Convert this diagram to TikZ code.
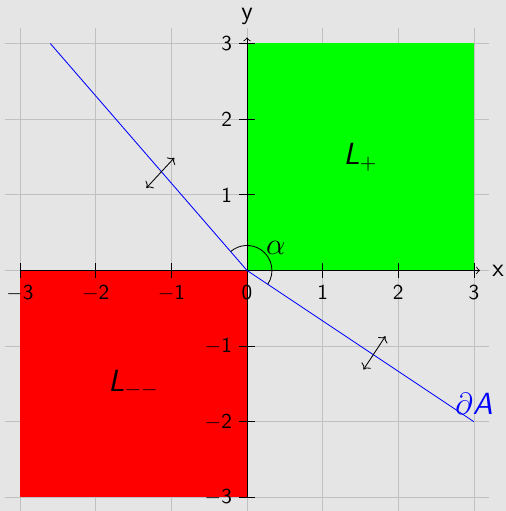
\documentclass[tikz,border=0pt]{standalone}
\usepackage{amsmath}
\usepackage{amssymb}
\usepackage{tikz}
\usetikzlibrary{
    arrows.meta,
    calc
}

\definecolor{bggray}{RGB}{229,229,229}
\definecolor{gridgray}{RGB}{192,192,192}

\newcommand{\sfL}{\textsf{\textit{L}}}

\begin{document}
\begin{tikzpicture}[x=1.25cm,y=1.25cm,font=\sffamily,
    axislabel/.style={font=\sffamily\large},
    regionlabel/.style={font=\sffamily\Large},
    flip/.style={black,<->}]

% Background
\fill[bggray] (-3.265,-3.18) rectangle (3.42,3.575);
\useasboundingbox (-3.265,-3.18) rectangle (3.42,3.575);

% Grid
\foreach \i in {-3,...,3}{
  \draw[gridgray] (\i,-3.2) -- (\i,3.2);
  \draw[gridgray] (-3.2,\i) -- (3.2,\i);
}

% Regions
\fill[green] (0,0) rectangle (3,3);
\fill[red] (-3,-3) rectangle (0,0);

% Axes
\draw[-to] (-3,0) -- (3.08,0);
\draw[-to] (0,-3) -- (0,3.08);
\node[axislabel] (xlab) at (3.32,0) {x};
\node[axislabel] (ylab) at (0,3.36) {y};

% Ticks
\foreach \x/\t in {-3/$-$3,-2/$-$2,-1/$-$1,0/0,1/1,2/2,3/3}{
  \draw (\x,-0.1) -- (\x,0.1);
  \node[below] (xt\x) at (\x,-0.1) {\t};
}
\foreach \y/\t in {-3/$-$3,-2/$-$2,-1/$-$1,1/1,2/2,3/3}{
  \draw (-0.1,\y) -- (0.1,\y);
  \node[left] (yt\y) at (-0.1,\y) {\t};
}

% Boundary
\coordinate (top) at (-2.6,3);
\coordinate (O) at (0,0);
\coordinate (bot) at (3,-2);
\draw[blue] (top) -- (O) -- (bot);
\node[above,blue,regionlabel] (dA) at (bot) {$\partial$\textit{A}};

% Angle
\draw (O) ++(-33.69:0.33) arc (-33.69:130.9:0.33);
\node[regionlabel] (alpha) at (0.38,0.30) {$\alpha$};

% Labels
\node[regionlabel] (Lp) at (1.5,1.5) {\sfL$_{+}$};
\node[regionlabel] (Lmm) at (-1.5,-1.5) {\sfL$_{--}$};

% Flip arrows
\coordinate (a1) at (-1.33,1.09);
\coordinate (b1) at (-0.96,1.49);
\coordinate (a2) at (1.54,-1.31);
\coordinate (b2) at (1.83,-0.87);
\draw[flip] (a1) -- (b1);
\draw[flip] (a2) -- (b2);

\end{tikzpicture}
\end{document}
